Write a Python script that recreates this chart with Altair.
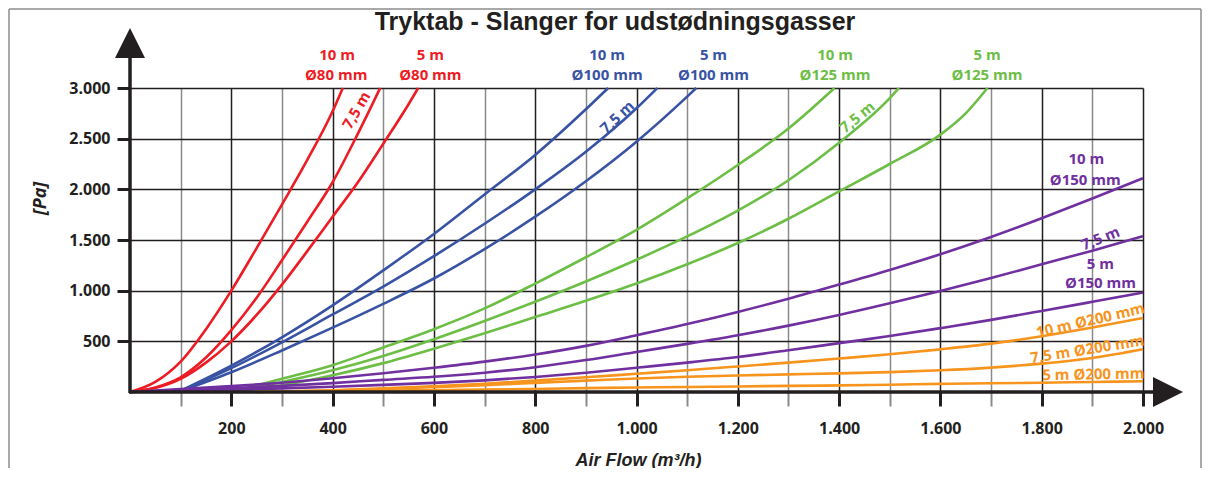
import altair as alt
import pandas as pd

# ---- values (air flow m3/h -> pressure loss Pa) ----
r80_10_x = [0, 50, 100, 150, 200, 250, 300, 350, 400, 420]
r80_10_y = [0, 100, 300, 620, 1000, 1420, 1850, 2290, 2770, 3000]
r80_75_x = [0, 50, 100, 150, 200, 250, 300, 350, 400, 450, 494]
r80_75_y = [0, 45, 145, 340, 610, 930, 1300, 1680, 2070, 2550, 3000]
r80_5_x = [0, 50, 100, 150, 200, 250, 300, 350, 400, 450, 500, 550, 569]
r80_5_y = [0, 40, 130, 290, 500, 760, 1060, 1390, 1730, 2070, 2450, 2840, 3000]

b100_10_x = [95, 200, 300, 400, 500, 600, 700, 800, 900, 944]
b100_10_y = [0, 260, 540, 855, 1200, 1560, 1950, 2340, 2790, 3000]
b100_75_x = [95, 200, 300, 400, 500, 600, 700, 800, 900, 1000, 1041]
b100_75_y = [0, 235, 490, 765, 1040, 1340, 1660, 2000, 2370, 2800, 3000]
b100_5_x = [95, 200, 300, 400, 500, 600, 700, 800, 900, 1000, 1100, 1118]
b100_5_y = [0, 195, 410, 635, 870, 1120, 1410, 1730, 2080, 2470, 2915, 3000]

g125_10_x = [200, 300, 400, 500, 600, 700, 800, 900, 1000, 1100, 1200, 1300, 1391]
g125_10_y = [0, 130, 265, 440, 620, 825, 1070, 1330, 1600, 1910, 2240, 2600, 3000]
g125_75_x = [200, 300, 400, 500, 600, 700, 800, 900, 1000, 1100, 1200, 1300, 1400, 1500, 1518]
g125_75_y = [0, 99, 214, 355, 520, 700, 890, 1090, 1305, 1535, 1790, 2090, 2460, 2900, 3000]
g125_5_x = [200, 300, 400, 500, 600, 700, 800, 900, 1000, 1100, 1200, 1300, 1400, 1500, 1600, 1650, 1693]
g125_5_y = [0, 66, 165, 285, 428, 580, 740, 900, 1070, 1260, 1470, 1710, 1980, 2250, 2540, 2750, 3000]

p150_x = [0, 100, 200, 300, 400, 500, 600, 700, 800, 900, 1000,
          1100, 1200, 1300, 1400, 1500, 1600, 1700, 1800, 1900, 2000]
p150_10_y = [0, 28, 58, 92, 135, 185, 240, 300, 370, 455, 560,
             670, 790, 920, 1060, 1205, 1360, 1530, 1715, 1910, 2110]
p150_75_y = [0, 18, 38, 60, 88, 120, 150, 190, 245, 315, 395,
             475, 560, 655, 760, 875, 997, 1125, 1260, 1395, 1537]
p150_5_y = [0, 10, 22, 36, 52, 70, 90, 115, 148, 190, 240,
            290, 345, 412, 482, 552, 630, 712, 800, 890, 981]

o200_x = [250, 400, 500, 600, 700, 800, 900, 1000, 1100, 1200, 1300, 1400, 1500, 1600, 1700, 1800, 1900, 2000]
o200_10_y = [0, 18, 36, 58, 82, 112, 145, 180, 215, 252, 290, 330, 372, 421, 477, 550, 636, 730]
o200_75_y = [0, 15, 30, 48, 68, 90, 112, 133, 150, 163, 174, 184, 196, 214, 241, 280, 336, 421]
o200_5_y = [0, 8, 13, 18, 24, 30, 38, 45, 50, 55, 60, 65, 72, 80, 86, 92, 99, 106]

diameters = ["80", "100", "125", "150", "200"]
diameter_colors = ["#ED1C24", "#3953A4", "#6DBE45", "#7030A0", "#F7941D"]

curves = [
    ("80", "10", r80_10_x, r80_10_y), ("80", "7.5", r80_75_x, r80_75_y), ("80", "5", r80_5_x, r80_5_y),
    ("100", "10", b100_10_x, b100_10_y), ("100", "7.5", b100_75_x, b100_75_y), ("100", "5", b100_5_x, b100_5_y),
    ("125", "10", g125_10_x, g125_10_y), ("125", "7.5", g125_75_x, g125_75_y), ("125", "5", g125_5_x, g125_5_y),
    ("150", "10", p150_x, p150_10_y), ("150", "7.5", p150_x, p150_75_y), ("150", "5", p150_x, p150_5_y),
    ("200", "10", o200_x, o200_10_y), ("200", "7.5", o200_x, o200_75_y), ("200", "5", o200_x, o200_5_y),
]
rows = []
for d, length, xs, ys in curves:
    for i, (xv, yv) in enumerate(zip(xs, ys)):
        rows.append({"flow": xv, "pa": yv, "diam": d, "series": d + "_" + length, "i": i})
df = pd.DataFrame(rows)

# curve annotations: text, anchor (flow, Pa), rotation, diameter
label_text = ["10 m", "Ø80 mm", "5 m", "Ø80 mm", "7,5 m",
              "10 m", "Ø100 mm", "5 m", "Ø100 mm", "7,5 m",
              "10 m", "Ø125 mm", "5 m", "Ø125 mm", "7,5 m",
              "10 m", "Ø150 mm", "7,5 m", "5 m", "Ø150 mm",
              "10 m Ø200 mm", "7,5 m Ø200 mm", "5 m Ø200 mm"]
label_flow = [409, 407, 593, 593, 447,
              942, 942, 1152, 1152, 962,
              1392, 1392, 1692, 1692, 1436,
              1888, 1886, 1916, 1916, 1916,
              1896, 1890, 1902]
label_pa = [3322, 3125, 3322, 3125, 2780,
            3322, 3125, 3322, 3125, 2711,
            3322, 3125, 3322, 3125, 2711,
            2296, 2088, 1515, 1268, 1071,
            707, 421, 174]
label_angle = [0, 0, 0, 0, 300,
               0, 0, 0, 0, 317,
               0, 0, 0, 0, 321,
               0, 0, 338, 0, 0,
               347, 351, 359]
label_diam = ["80"] * 5 + ["100"] * 5 + ["125"] * 5 + ["150"] * 5 + ["200"] * 3
labels = pd.DataFrame({"text": label_text, "flow": label_flow, "pa": label_pa,
                       "angle": label_angle, "diam": label_diam})

title_text = "Tryktab - Slanger for udstødningsgasser"
x_ticks = list(range(100, 2001, 100))
y_ticks = [500, 1000, 1500, 2000, 2500, 3000]

W, H = 1013, 304
BOTTOM = 76
INK = "#231F20"
color_scale = alt.Scale(domain=diameters, range=diameter_colors)
fmt = "replace(format(datum.value, ','), ',', '.')"
even = "datum.value % 200 === 0"

x_enc = alt.X("flow:Q", scale=alt.Scale(domain=[0, 2000], nice=False, zero=False),
              axis=alt.Axis(values=x_ticks, domain=False,
                            grid=True, gridWidth=1.5,
                            gridColor={"condition": {"test": even, "value": INK}, "value": "#8A8A8A"},
                            tickSize=14,
                            tickColor={"condition": {"test": even, "value": INK}, "value": "#8A8A8A"},
                            tickWidth={"condition": {"test": even, "value": 3}, "value": 2},
                            labelExpr=even + " ? " + fmt + " : ''",
                            labelFont="Open Sans", labelFontWeight="bold", labelFontSize=16,
                            labelColor=INK, labelPadding=14, labelFlush=False,
                            title="Air Flow (m³/h)", titleFont="Liberation Sans", titleFontStyle="italic",
                            titleFontWeight="bold", titleFontSize=18, titleColor=INK,
                            titleX=508, titleY=68, titleBaseline="middle", titleAlign="center"))
y_enc = alt.Y("pa:Q", scale=alt.Scale(domain=[0, 3000], nice=False),
              axis=alt.Axis(values=y_ticks, domain=False, grid=True, gridWidth=1.5, gridColor=INK,
                            tickSize=13, tickWidth=3, tickColor=INK,
                            labelExpr=fmt, labelFont="Open Sans", labelFontWeight="bold", labelFontSize=16,
                            labelColor=INK, labelPadding=7,
                            title="[Pa]", titleFont="Open Sans", titleFontStyle="italic", titleFontWeight="bold",
                            titleFontSize=18, titleColor=INK, titleAngle=270,
                            titleX=-90, titleY=110, titleBaseline="middle", titleAlign="center"))

lines = alt.Chart(df).mark_line(strokeWidth=2.6, interpolate="monotone").encode(
    x=x_enc, y=y_enc,
    color=alt.Color("diam:N", scale=color_scale, legend=None),
    detail="series:N",
    order="i:Q",
)

text_marks = alt.Chart(labels).mark_text(font="Open Sans", fontWeight="bold", fontSize=15,
                                         baseline="middle", align="center").encode(
    x="flow:Q", y="pa:Q", text="text:N",
    angle=alt.Angle("angle:Q", scale=None),
    color=alt.Color("diam:N", scale=color_scale, legend=None),
)

one = pd.DataFrame({"k": [0]})
title_mark = alt.Chart(pd.DataFrame({"t": [title_text]})).mark_text(
    font="Liberation Sans", fontSize=25, fontWeight="bold", color=INK,
    align="center", baseline="alphabetic").encode(
    text="t:N", x=alt.value(485), y=alt.value(-58))

frame_style = dict(color="#8C8C8C", strokeWidth=1.5)
frame_left = alt.Chart(one).mark_rule(**frame_style).encode(
    x=alt.value(-121), y=alt.value(-79), y2=alt.value(H + BOTTOM))
frame_right = alt.Chart(one).mark_rule(**frame_style).encode(
    x=alt.value(1071), y=alt.value(-79), y2=alt.value(H + BOTTOM))
frame_top = alt.Chart(one).mark_rule(**frame_style).encode(
    x=alt.value(-121), x2=alt.value(1071), y=alt.value(-79))

y_axis_line = alt.Chart(one).mark_rule(color=INK, strokeWidth=3.5).encode(
    x=alt.value(0), y=alt.value(-40), y2=alt.value(H + 1))
x_axis_line = alt.Chart(one).mark_rule(color=INK, strokeWidth=3.5).encode(
    x=alt.value(-1), x2=alt.value(1030), y=alt.value(H))
up_arrow = alt.Chart(one).mark_point(shape="M0,-1L1,1L-1,1Z", filled=True, opacity=1,
                                     color=INK, size=900).encode(
    x=alt.value(0), y=alt.value(-45))
right_arrow = alt.Chart(one).mark_point(shape="M1,0L-1,-1L-1,1Z", filled=True, opacity=1,
                                        color=INK, size=900).encode(
    x=alt.value(1038), y=alt.value(H))

chart = alt.layer(frame_left, frame_right, frame_top, lines, y_axis_line, x_axis_line,
                  up_arrow, right_arrow, text_marks, title_mark).properties(
    width=W, height=H,
    autosize=alt.AutoSizeParams(type="none"),
    padding={"left": 122, "top": 80, "right": 60, "bottom": BOTTOM},
).configure_view(stroke="transparent").configure(background="white")

chart.save("out.html", embed_options={"renderer": "svg", "actions": False})
